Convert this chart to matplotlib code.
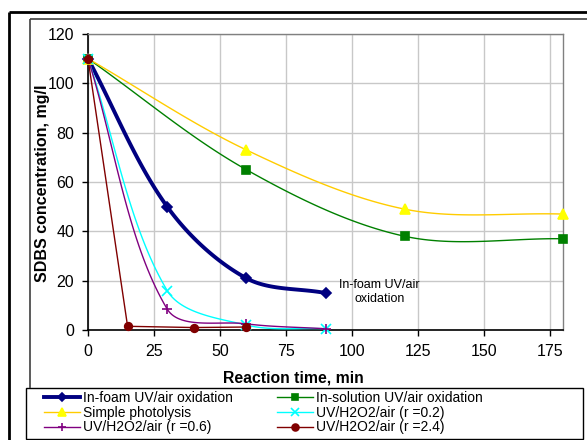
import numpy as np
import matplotlib
matplotlib.use("Agg")
import matplotlib.pyplot as plt
from matplotlib.lines import Line2D
from matplotlib.patches import Rectangle

plt.rcParams["font.family"] = ["Liberation Sans", "DejaVu Sans"]

# data
foam_t = [0, 30, 60, 90]
foam_c = [110, 50, 21, 15]
sol_t = [0, 60, 120, 180]
sol_c = [110, 65, 38, 37]
photo_t = [0, 60, 120, 180]
photo_c = [110, 73, 49, 47]
r02_t = [0, 30, 60, 90]
r02_c = [110, 16, 2, 0.5]
r06_t = [0, 30, 60, 90]
r06_c = [110, 8.5, 2.5, 0.5]
r24_t = [0, 15, 40, 60]
r24_c = [110, 1.5, 1, 1.2]

labels = ["In-foam UV/air oxidation", "In-solution UV/air oxidation",
          "Simple photolysis", "UV/H2O2/air (r =0.2)",
          "UV/H2O2/air (r =0.6)", "UV/H2O2/air (r =2.4)"]


def smooth(xs, ys, sx=2.64, sy=2.47, n=40):
    # Excel-like smoothed line: chord-weighted Catmull-Rom as cubic Bezier
    p = np.column_stack([np.asarray(xs, float) * sx, np.asarray(ys, float) * sy])
    m = len(p)
    seg = np.linalg.norm(np.diff(p, axis=0), axis=1)
    out = [p[:1]]
    tt = np.linspace(0, 1, n)[1:, None]
    for i in range(m - 1):
        a, b = p[i], p[i + 1]
        if i == 0:
            c1 = a + (b - a) / 3
        else:
            c1 = a + (p[i + 1] - p[i - 1]) * seg[i] / (seg[i - 1] + seg[i]) / 3
        if i == m - 2:
            c2 = b - (b - a) / 3
        else:
            c2 = b - (p[i + 2] - p[i]) * seg[i] / (seg[i] + seg[i + 1]) / 3
        pts = ((1 - tt) ** 3 * a + 3 * (1 - tt) ** 2 * tt * c1
               + 3 * (1 - tt) * tt ** 2 * c2 + tt ** 3 * b)
        out.append(pts)
    q = np.vstack(out)
    return q[:, 0] / sx, q[:, 1] / sy


W, H = 587, 440
fig = plt.figure(figsize=(5.87, 4.40), dpi=100)

# background axes in pixel units for the frames around the chart
bg = fig.add_axes([0, 0, 1, 1], zorder=-1)
bg.set_xlim(0, W)
bg.set_ylim(H, 0)
bg.axis("off")
bg.plot([9, W], [12, 12], color="black", lw=2.0, solid_capstyle="butt")
bg.plot([9, 9], [12, H], color="black", lw=2.0, solid_capstyle="butt")
bg.plot([30, W], [19, 19], color="#404040", lw=1.2, solid_capstyle="butt")
bg.plot([30, 30], [19, 388], color="#404040", lw=1.2, solid_capstyle="butt")
bg.add_patch(Rectangle((26, 388), 557, 51, fill=False, edgecolor="black", lw=1.0))

ax = fig.add_axes([88 / W, 1 - 330 / H, 475 / W, 296 / H])

series = [
    (foam_t, foam_c, "#000080", "#000080", "D", 5, 2.8, True),
    (sol_t, sol_c, "#008000", "#008000", "s", 5.5, 1.0, True),
    (photo_t, photo_c, "#FFCC00", "#FFFF00", "^", 7, 1.0, True),
    (r02_t, r02_c, "#00FFFF", "#00FFFF", "x", 7, 1.0, True),
    (r06_t, r06_c, "#800080", "#800080", "+", 7, 1.0, True),
    (r24_t, r24_c, "#800000", "#800000", "o", 5.5, 1.0, False),
]

handles = []
for t, c, lc, mc, mk, ms, lw, sm in series:
    if sm:
        xs, ys = smooth(t, c)
    else:
        xs, ys = t, c
    ax.plot(xs, ys, color=lc, lw=lw, zorder=3)
    ax.plot(t, c, ls="none", marker=mk, ms=ms, color=mc,
            markeredgecolor=mc, mew=1.2, zorder=4, clip_on=False)
    handles.append(Line2D([], [], color=lc, lw=lw, marker=mk, ms=ms * 0.9,
                          markerfacecolor=mc, markeredgecolor=mc, mew=1.2))

ax.set_xlim(0, 180)
ax.set_ylim(0, 120)
ax.set_xticks(np.arange(0, 180, 25))
ax.set_yticks(np.arange(0, 121, 20))
ax.grid(True, color="#c8c8c8", lw=1.0)
ax.set_axisbelow(True)
for s in ["top", "right"]:
    ax.spines[s].set_color("#808080")
    ax.spines[s].set_linewidth(1.0)
for s in ["left", "bottom"]:
    ax.spines[s].set_linewidth(1.2)
ax.tick_params(labelsize=11.5, length=4, width=1, direction="out", pad=6)

ax.text(110.5, 15.4, "In-foam UV/air\noxidation", ha="center", va="center",
        fontsize=9, linespacing=1.3)

fig.text(43 / W, 1 - 183 / H, "SDBS concentration, mg/l", rotation=90,
         ha="center", va="center", fontsize=11.5, fontweight="bold")
fig.text(293 / W, 1 - 378 / H, "Reaction time, min", ha="center",
         va="center", fontsize=11.3, fontweight="bold")

order = [0, 2, 4, 1, 3, 5]
fig.legend([handles[i] for i in order], [labels[i] for i in order],
           ncol=2, loc="upper left", bbox_to_anchor=(44 / W, 1 - 391 / H),
           frameon=False, fontsize=10, handlelength=2.6, handletextpad=0.2,
           labelspacing=0.05, columnspacing=3.2, borderpad=0, borderaxespad=0)

fig.savefig("out.png", dpi=100)
plt.close(fig)
